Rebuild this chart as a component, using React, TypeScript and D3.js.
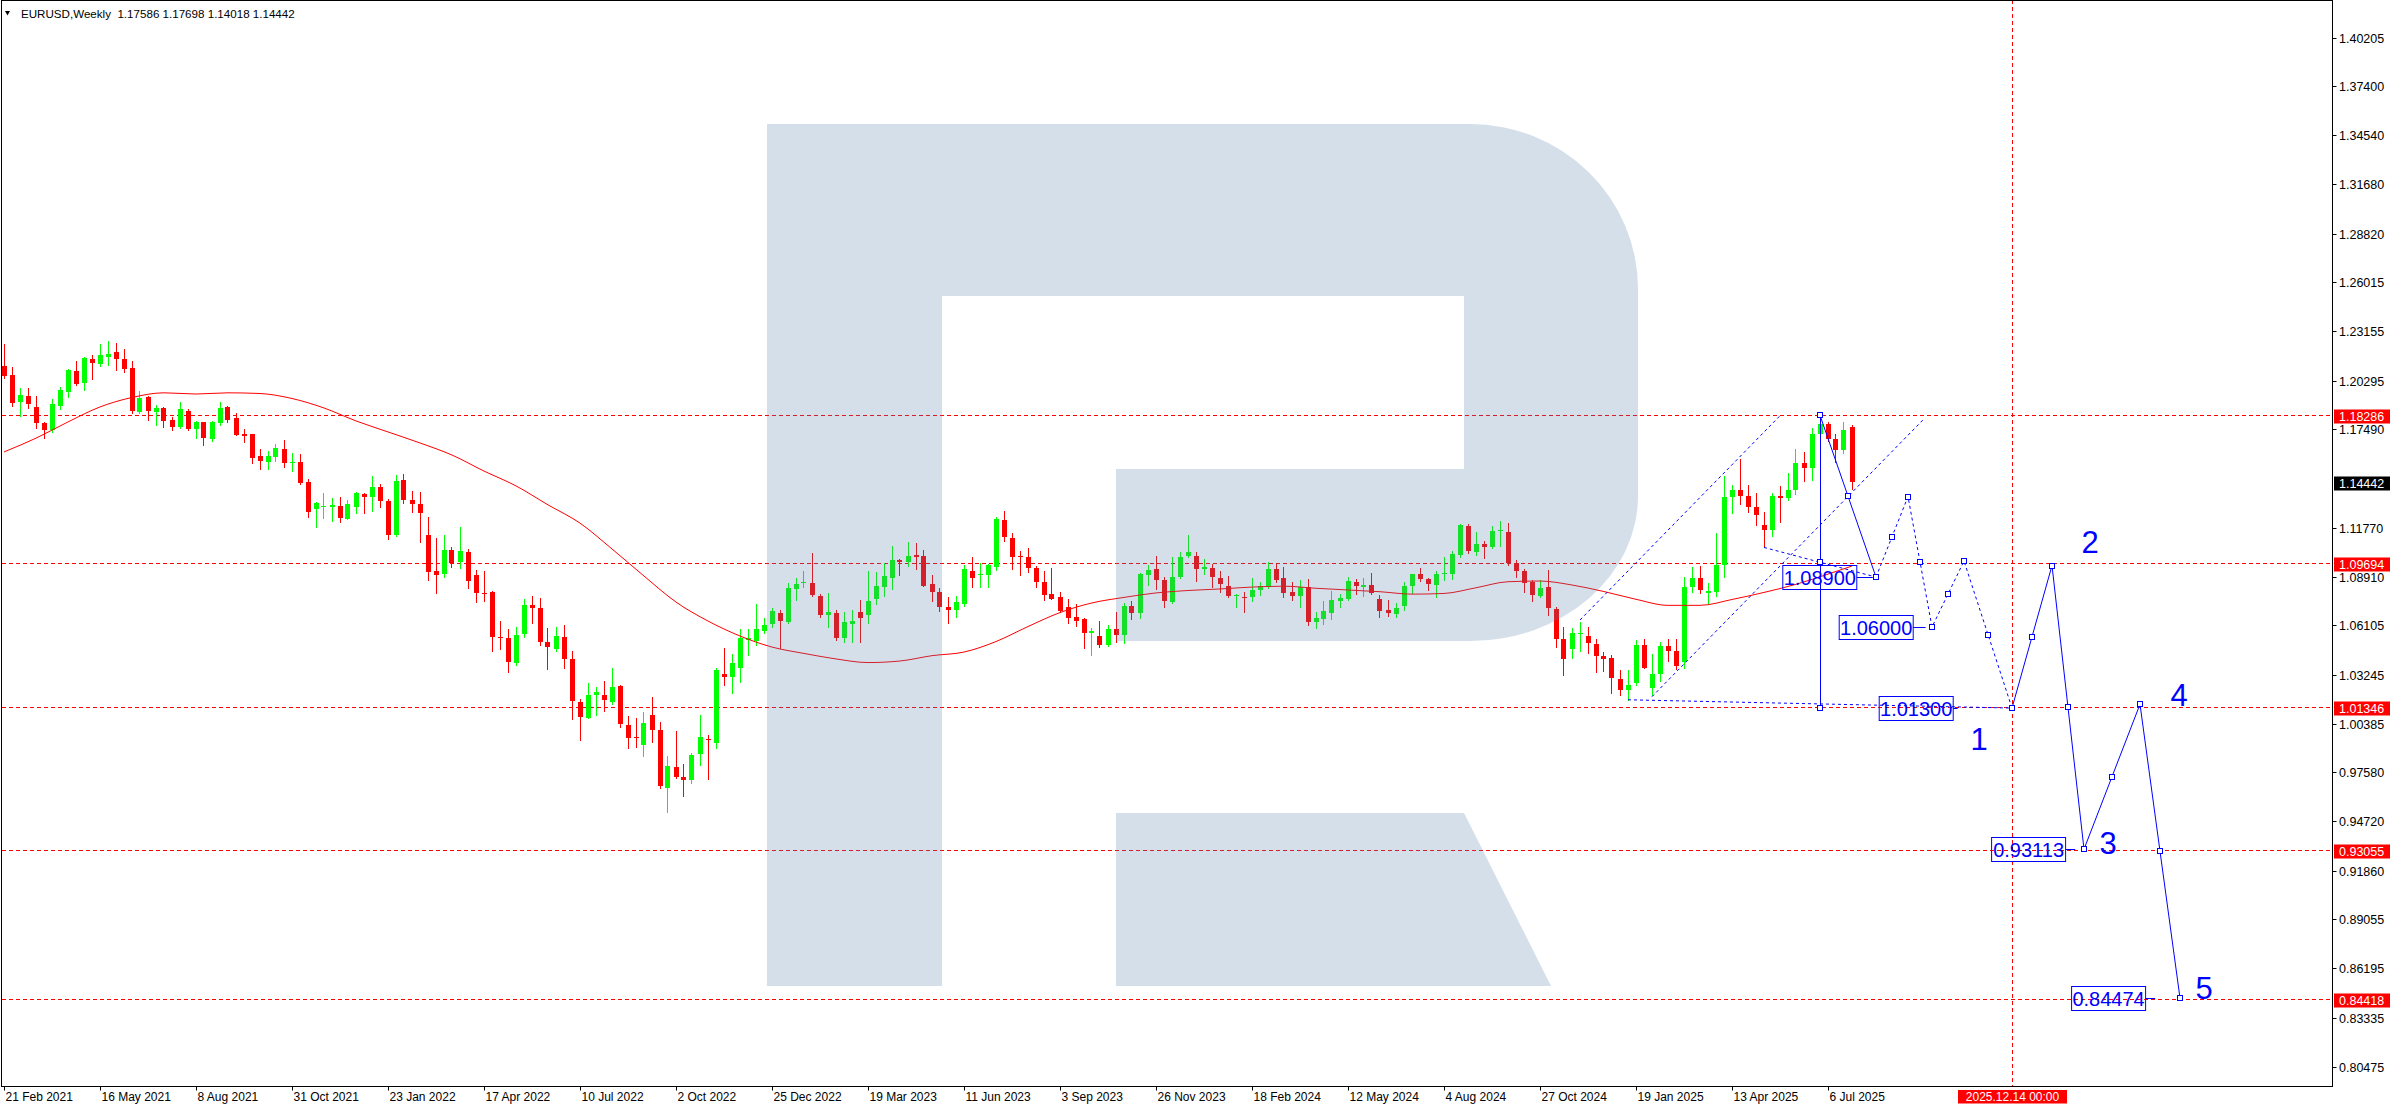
import React from "react";
import * as d3 from "d3";

// ---------- DATA ----------
const SYMBOL = "EURUSD,Weekly";
const START = Date.UTC(2021, 1, 21); // first visible weekly bar (index 0)
const WEEK_MS = 7 * 24 * 3600 * 1000;

const opens = [
  1.2115,1.2062,1.1908,1.1941,1.1875,1.1784,1.1743,1.1883,1.1966,1.2086,
  1.2018,1.2155,1.2126,1.2169,1.2196,1.2155,1.2103,1.1850,1.1937,1.1850,
  1.1869,1.1801,1.1763,1.1855,1.1749,1.1788,1.1690,1.1786,1.1875,1.1815,
  1.1720,1.1718,1.1592,1.1560,1.1589,1.1633,1.1554,1.1558,1.1442,1.1283,
  1.1299,1.1295,1.1302,1.1229,1.1299,1.1372,1.1353,1.1411,1.1331,1.1134,
  1.1451,1.1335,1.1314,1.1134,1.0927,1.0908,1.1047,1.0977,1.1037,1.0902,
  1.0800,1.0805,1.0544,1.0535,1.0393,1.0558,1.0728,1.0709,1.0511,1.0471,
  1.0540,1.0415,1.0167,1.0074,1.0204,1.0204,1.0167,1.0258,1.0032,0.9964,
  0.9916,1.0090,1.0003,0.9664,0.9786,0.9728,0.9713,0.9863,0.9949,0.9930,
  1.0328,1.0312,1.0364,1.0525,1.0521,1.0577,1.0616,1.0680,1.0631,1.0821,
  1.0857,1.0854,1.0780,1.0670,1.0684,1.0535,1.0618,1.0687,1.0670,1.0763,
  1.0834,1.0887,1.0989,1.0979,1.1018,1.1012,1.0850,1.0801,1.0718,1.0699,
  1.0734,1.0925,1.0902,1.0902,1.0950,1.1221,1.1115,1.1012,1.1008,1.0941,
  1.0860,1.0792,1.0772,1.0718,1.0660,1.0645,1.0563,1.0548,1.0496,1.0589,
  1.0554,1.0722,1.0680,1.0902,1.0937,1.0873,1.0748,1.0889,1.1014,1.1014,
  1.0935,1.0941,1.0887,1.0838,1.0782,1.0776,1.0772,1.0815,1.0830,1.0937,
  1.0883,1.0805,1.0782,1.0834,1.0627,1.0647,1.0683,1.0753,1.0763,1.0863,
  1.0834,1.0844,1.0763,1.0699,1.0676,1.0720,1.0840,1.0905,1.0877,1.0844,
  1.0908,1.0908,1.1018,1.1186,1.1037,1.1080,1.1066,1.1155,1.1153,1.0970,
  1.0927,1.0864,1.0782,1.0835,1.0703,1.0529,1.0471,1.0560,1.0550,1.0500,
  1.0430,1.0419,1.0297,1.0235,1.0274,1.0493,1.0246,1.0329,1.0492,1.0459,
  1.0398,1.0833,1.0882,1.0800,1.0803,1.0960,1.1357,1.1394,1.1362,1.1299,
  1.1190,1.1163,1.1363,1.1348,1.1397,1.1551,1.1523,1.1719,1.1779,1.1689,
  1.1626,1.17586,
];
const highs = [
  1.2240,1.2111,1.1985,1.1985,1.1941,1.1792,1.1923,1.1995,1.2095,1.2144,
  1.2165,1.2178,1.2242,1.2260,1.2250,1.2211,1.2144,1.1970,1.1941,1.1888,
  1.1875,1.1821,1.1908,1.1863,1.1797,1.1792,1.1796,1.1906,1.1883,1.1840,
  1.1749,1.1722,1.1631,1.1621,1.1662,1.1685,1.1608,1.1604,1.1457,1.1325,
  1.1376,1.1347,1.1353,1.1337,1.1382,1.1376,1.1477,1.1428,1.1341,1.1482,
  1.1488,1.1387,1.1382,1.1240,1.1115,1.1134,1.1063,1.1179,1.1051,1.0931,
  1.0927,1.0811,1.0635,1.0589,1.0598,1.0763,1.0780,1.0767,1.0593,1.0598,
  1.0612,1.0461,1.0181,1.0274,1.0250,1.0287,1.0364,1.0264,1.0084,1.0074,
  1.0105,1.0196,1.0051,0.9852,0.9997,0.9805,0.9867,1.0090,0.9974,1.0360,
  1.0477,1.0444,1.0587,1.0587,1.0734,1.0651,1.0709,1.0699,1.0858,1.0883,
  1.0927,1.1032,1.0792,1.0800,1.0699,1.0689,1.0699,1.0757,1.0927,1.0921,
  1.0970,1.1070,1.0995,1.1095,1.1090,1.1047,1.0902,1.0825,1.0776,1.0780,
  1.0960,1.1008,1.0970,1.0966,1.1240,1.1275,1.1144,1.1041,1.1057,1.0954,
  1.0925,1.0945,1.0801,1.0761,1.0734,1.0650,1.0593,1.0635,1.0612,1.0687,
  1.0741,1.0751,1.0912,1.0960,1.1012,1.0889,1.1008,1.1035,1.1134,1.1033,
  1.0993,1.0964,1.0925,1.0896,1.0791,1.0805,1.0883,1.0859,1.0979,1.0966,
  1.0948,1.0859,1.0873,1.0879,1.0685,1.0751,1.0811,1.0792,1.0892,1.0879,
  1.0883,1.0912,1.0786,1.0757,1.0741,1.0859,1.0910,1.0945,1.0885,1.0925,
  1.1008,1.1043,1.1198,1.1200,1.1150,1.1100,1.1186,1.1214,1.1202,1.0989,
  1.0935,1.0873,1.0873,1.0931,1.0718,1.0602,1.0593,1.0630,1.0600,1.0530,
  1.0456,1.0440,1.0351,1.0351,1.0522,1.0533,1.0442,1.0513,1.0528,1.0528,
  1.0888,1.0947,1.0955,1.0858,1.1144,1.1474,1.1423,1.1573,1.1425,1.1380,
  1.1265,1.1376,1.1419,1.1495,1.1631,1.1614,1.1754,1.18286,1.1789,1.1720,
  1.1788,1.17698,
];
const lows = [
  1.2045,1.1883,1.1825,1.1869,1.1753,1.1695,1.1734,1.1863,1.1937,1.2004,
  1.1975,1.2037,1.2115,1.2120,1.2091,1.2082,1.1840,1.1840,1.1801,1.1772,
  1.1763,1.1743,1.1753,1.1743,1.1699,1.1656,1.1681,1.1772,1.1792,1.1714,
  1.1676,1.1554,1.1517,1.1517,1.1565,1.1527,1.1507,1.1430,1.1240,1.1179,
  1.1231,1.1217,1.1211,1.1225,1.1264,1.1264,1.1275,1.1295,1.1111,1.1130,
  1.1322,1.1266,1.1095,1.0873,1.0800,1.0892,1.0950,1.0941,1.0825,1.0747,
  1.0753,1.0463,1.0473,1.0341,1.0380,1.0544,1.0622,1.0496,1.0355,1.0463,
  1.0360,1.0065,0.9945,1.0070,1.0090,1.0115,1.0152,1.0022,0.9896,0.9906,
  0.9854,0.9935,0.9664,0.9529,0.9722,0.9622,0.9697,0.9800,0.9718,0.9900,
  1.0264,1.0215,1.0283,1.0438,1.0496,1.0567,1.0598,1.0477,1.0625,1.0757,
  1.0830,1.0782,1.0660,1.0602,1.0525,1.0515,1.0511,1.0511,1.0625,1.0734,
  1.0780,1.0821,1.0902,1.0956,1.0935,1.0838,1.0753,1.0695,1.0625,1.0660,
  1.0722,1.0834,1.0830,1.0830,1.0931,1.1101,1.0935,1.0902,1.0921,1.0834,
  1.0757,1.0760,1.0690,1.0625,1.0608,1.0480,1.0438,1.0486,1.0490,1.0515,
  1.0510,1.0647,1.0654,1.0844,1.0821,1.0718,1.0738,1.0885,1.1005,1.0869,
  1.0906,1.0834,1.0805,1.0772,1.0714,1.0689,1.0753,1.0786,1.0828,1.0863,
  1.0776,1.0757,1.0718,1.0612,1.0593,1.0618,1.0645,1.0718,1.0757,1.0792,
  1.0782,1.0792,1.0660,1.0666,1.0660,1.0699,1.0796,1.0867,1.0815,1.0772,
  1.0873,1.0881,1.1005,1.1030,1.1018,1.0999,1.1060,1.1068,1.0960,1.0892,
  1.0805,1.0753,1.0776,1.0670,1.0486,1.0322,1.0419,1.0460,1.0450,1.0340,
  1.0343,1.0216,1.0206,1.0178,1.0266,1.0360,1.0206,1.0285,1.0401,1.0358,
  1.0360,1.0806,1.0796,1.0733,1.0778,1.0888,1.1264,1.1314,1.1265,1.1192,
  1.1065,1.1129,1.1210,1.1340,1.1373,1.1446,1.1453,1.1713,1.1677,1.1556,
  1.1609,1.14018,
];
const closes = [
  1.2055,1.1902,1.1946,1.1894,1.1786,1.1743,1.1894,1.1975,1.2091,1.2010,
  1.2161,1.2134,1.2178,1.2184,1.2155,1.2097,1.1852,1.1931,1.1854,1.1869,
  1.1797,1.1763,1.1863,1.1749,1.1788,1.1695,1.1790,1.1869,1.1801,1.1716,
  1.1711,1.1583,1.1565,1.1592,1.1641,1.1554,1.1558,1.1438,1.1269,1.1318,
  1.1303,1.1308,1.1231,1.1314,1.1376,1.1353,1.1411,1.1333,1.1134,1.1445,
  1.1337,1.1314,1.1264,1.0921,1.0902,1.1047,1.0970,1.1041,1.0869,1.0800,
  1.0792,1.0540,1.0536,1.0399,1.0554,1.0728,1.0709,1.0515,1.0486,1.0548,
  1.0415,1.0173,1.0080,1.0206,1.0221,1.0177,1.0250,1.0036,0.9958,0.9956,
  1.0041,1.0003,0.9680,0.9794,0.9732,0.9713,0.9858,0.9960,0.9945,1.0351,
  1.0312,1.0390,1.0535,1.0535,1.0587,1.0612,1.0693,1.0637,1.0825,1.0850,
  1.0860,1.0786,1.0670,1.0687,1.0535,1.0631,1.0637,1.0654,1.0751,1.0838,
  1.0896,1.0989,1.0977,1.1012,1.1008,1.0840,1.0801,1.0718,1.0699,1.0747,
  1.0937,1.0887,1.0908,1.0960,1.1227,1.1121,1.1008,1.1005,1.0941,1.0863,
  1.0786,1.0763,1.0695,1.0654,1.0637,1.0567,1.0577,1.0496,1.0589,1.0554,
  1.0722,1.0680,1.0908,1.0931,1.0873,1.0753,1.0892,1.1008,1.1035,1.0935,
  1.0950,1.0889,1.0848,1.0782,1.0786,1.0770,1.0815,1.0838,1.0937,1.0873,
  1.0800,1.0782,1.0834,1.0631,1.0654,1.0693,1.0757,1.0770,1.0867,1.0840,
  1.0844,1.0796,1.0695,1.0684,1.0709,1.0838,1.0905,1.0877,1.0848,1.0908,
  1.0912,1.1022,1.1192,1.1041,1.1080,1.1066,1.1157,1.1161,1.0970,1.0927,
  1.0854,1.0786,1.0829,1.0709,1.0529,1.0413,1.0568,1.0567,1.0505,1.0430,
  1.0415,1.0303,1.0235,1.0264,1.0493,1.0364,1.0329,1.0492,1.0459,1.0375,
  1.0833,1.0882,1.0815,1.0808,1.0960,1.1357,1.1394,1.1362,1.1299,1.1250,
  1.1163,1.1363,1.1348,1.1397,1.1551,1.1523,1.1719,1.1779,1.1689,1.1626,
  1.1742,1.14442,
];

// Moving average (week index -> value)
const maWeeks = [0,4,8,12,16,20,24,28,32,36,40,44,48,52,56,60,64,68,72,76,80,84,88,92,96,100,104,108,112,116,120,124,128,132,136,140,144,148,152,156,160,164,168,172,176,180,184,188,192,196,200,204,208,212,216,220,224,228,231];
const maValues = [1.1616,1.1696,1.1790,1.1877,1.1932,1.1959,1.1952,1.1959,1.1955,1.1926,1.1871,1.1796,1.1732,1.1668,1.1598,1.1505,1.1419,1.1309,1.1203,1.1053,1.0896,1.0745,1.0635,1.0548,1.0484,1.0447,1.0415,1.0394,1.0403,1.0434,1.0455,1.0516,1.0603,1.0684,1.0740,1.0772,1.0798,1.0812,1.0821,1.0832,1.0837,1.0825,1.0815,1.0805,1.0791,1.0795,1.0828,1.0863,1.0867,1.0844,1.0806,1.0761,1.0726,1.0726,1.0760,1.0801,1.0848,1.0907,1.0954];

const priceTicks = [1.40205,1.374,1.3454,1.3168,1.2882,1.26015,1.23155,1.20295,1.1749,1.1177,1.0891,1.06105,1.03245,1.00385,0.9758,0.9472,0.9186,0.89055,0.86195,0.83335,0.80475];
const levelPrices = [1.18286, 1.09694, 1.01346, 0.93055, 0.84418];
const dateTickLabels = ["21 Feb 2021","16 May 2021","8 Aug 2021","31 Oct 2021","23 Jan 2022","17 Apr 2022","10 Jul 2022","2 Oct 2022","25 Dec 2022","19 Mar 2023","11 Jun 2023","3 Sep 2023","26 Nov 2023","18 Feb 2024","12 May 2024","4 Aug 2024","27 Oct 2024","19 Jan 2025","13 Apr 2025","6 Jul 2025"];
const markerWeek = 251; // vertical time marker (2025.12.14)

// Forecast drawing (week index, price)
const firstLeg = [[227, 1.18286], [234, 1.089]];
const dottedWave = [[234, 1.089], [238, 1.1357], [241, 1.06], [245, 1.0983], [251, 1.013]];
const mainWave = [[251, 1.013], [256, 1.0957], [260, 0.93113], [267, 1.0152], [272, 0.84474]];
const waveNames = ["1", "2", "3", "4", "5"];
const channelUpper = [[197, 1.0641], [222, 1.1826]];
const channelLower = [[206, 1.0196], [240, 1.1808]];
const baseLine = [[203, 1.0178], [251, 1.013]];
const diagLine = [[220, 1.1062], [234, 1.089]];
const verticalLine = [[227, 1.18286], [227, 1.013]];
const boxPrices = [1.089, 1.06, 1.013, 0.93113, 0.84474];
const boxRightWeeks = [231.6, 238.65, 243.65, 257.7, 267.7];
const boxTargetWeeks = [233.6, 240.2, 244.2, 258.9, 268.9];

// ---------- LAYOUT ----------
const W = 2396, H = 1110;
const PL = 1.5, PT = 0.5, PR = 2332.5, PB = 1086.5;
const FONT = "'Liberation Sans', Arial, sans-serif";
const BLUE = "#0000ff";
const RED = "#ff0000";
const waveLabelOffsets = [[-33, 42], [38, -13], [24, 5], [39, 2], [24, 1]];

const weekDate = (i: number) => new Date(START + i * WEEK_MS);
const xScale = d3.scaleUtc().domain([weekDate(0), weekDate(markerWeek)]).range([4, 4 + 8 * markerWeek]);
const yScale = d3.scaleLinear().domain([1.40205, 0.80475]).range([37.5, 1067]);
const X = (i: number) => xScale(weekDate(i));
const Y = (p: number) => yScale(p);

function Marker({ x, y }: { x: number; y: number }) {
  return <rect x={Math.round(x) - 2.5} y={Math.round(y) - 2.5} width={5} height={5} fill="#fff" stroke={BLUE} strokeWidth={1} />;
}

function segMarkers(pts: number[][]) {
  const out: { x: number; y: number }[] = [];
  pts.forEach((p, k) => {
    out.push({ x: X(p[0]), y: Y(p[1]) });
    if (k < pts.length - 1) {
      const q = pts[k + 1];
      out.push({ x: X((p[0] + q[0]) / 2), y: Y((p[1] + q[1]) / 2) });
    }
  });
  return out;
}

export default function App() {
  const line = d3.line<number[]>().x((d) => X(d[0])).y((d) => Y(d[1]));
  const maLine = d3
    .line<number>()
    .x((_, k) => X(maWeeks[k]))
    .y((v) => Y(v))
    .curve(d3.curveMonotoneX);

  const candles = closes.map((c, i) => {
    const o = opens[i], h = highs[i], l = lows[i];
    const cx = Math.floor(X(i));
    const col = c >= o ? "#00ff00" : RED;
    const yH = Math.round(Y(h)), yL = Math.round(Y(l));
    const top = Math.round(Y(Math.max(o, c)));
    const bot = Math.round(Y(Math.min(o, c)));
    return (
      <g key={i} fill={col}>
        <rect x={cx} y={yH} width={1} height={Math.max(1, yL - yH + 1)} />
        <rect x={cx - 2} y={top} width={5} height={Math.max(1, bot - top)} />
      </g>
    );
  });

  const parse = d3.utcParse("%d %b %Y");
  const last = closes.length - 1;
  const header = `${SYMBOL}  ${opens[last].toFixed(5)} ${highs[last].toFixed(5)} ${lows[last].toFixed(5)} ${closes[last].toFixed(5)}`;
  const fmtMarker = d3.utcFormat("%Y.%m.%d %H:%M");
  const xm = Math.floor(X(markerWeek)) + 0.5;

  const logoMain = "M767,124 H1470 A168,165 0 0 1 1638,289 V496 A168,145 0 0 1 1470,641 H1116 V469 H1464 V296 H942 V986 H767 Z";
  const logoLeg = "M1116,813 H1464 L1551,986 H1116 Z";

  const allMarkers = [
    ...segMarkers(firstLeg),
    ...segMarkers(dottedWave),
    ...segMarkers(mainWave),
    ...segMarkers(verticalLine),
  ];

  return (
    <svg
      width={W}
      height={H}
      style={{ position: "absolute", left: 0, top: 0, background: "#fff" }}
      fontFamily={FONT}
    >
      <defs>
        <clipPath id="plot">
          <rect x={2} y={1} width={PR - 2} height={PB - 1} />
        </clipPath>
      </defs>
      <rect x={0} y={0} width={W} height={H} fill="#fff" />

      <g clipPath="url(#plot)">
        {levelPrices.map((p) => (
          <line key={p} x1={2} x2={PR} y1={Math.round(Y(p)) + 0.5} y2={Math.round(Y(p)) + 0.5} stroke={RED} strokeDasharray="4 3" />
        ))}
        <line x1={xm} x2={xm} y1={0} y2={PB} stroke={RED} strokeDasharray="4 3" />
        {candles}
        <path d={maLine(maValues) || ""} fill="none" stroke={RED} strokeWidth={1} />
        <path d={logoMain} fill="rgb(84,128,172)" fillOpacity={0.25} />
        <path d={logoLeg} fill="rgb(84,128,172)" fillOpacity={0.25} />

        {/* forecast drawings */}
        <g fill="none" stroke={BLUE} strokeWidth={1}>
          <path d={line(channelUpper) || ""} strokeDasharray="3 3" />
          <path d={line(channelLower) || ""} strokeDasharray="3 3" />
          <path d={line(baseLine) || ""} strokeDasharray="3 3" />
          <path d={line(diagLine) || ""} strokeDasharray="3 3" />
          <path d={line(dottedWave) || ""} strokeDasharray="3 3" />
          <path d={line(firstLeg) || ""} />
          <path d={line(mainWave) || ""} />
          <line x1={Math.floor(X(verticalLine[0][0])) + 0.5} x2={Math.floor(X(verticalLine[1][0])) + 0.5} y1={Y(verticalLine[0][1])} y2={Y(verticalLine[1][1])} />
        </g>
        {boxPrices.map((p, k) => {
          const xr = X(boxRightWeeks[k]);
          const yc = Math.round(Y(p)) + 0.5;
          return (
            <g key={p}>
              <line x1={xr} x2={X(boxTargetWeeks[k])} y1={yc} y2={yc} stroke={BLUE} />
              <rect x={xr - 74} y={yc - 12} width={74} height={24} fill="none" stroke={BLUE} />
              <text x={xr - 37} y={yc + 7} fontSize={20} fill={BLUE} textAnchor="middle">{p.toFixed(5)}</text>
            </g>
          );
        })}
        {allMarkers.map((m, k) => <Marker key={k} x={m.x} y={m.y} />)}
        {mainWave.map((p, k) => (
          <text key={k} x={X(p[0]) + waveLabelOffsets[k][0]} y={Y(p[1]) + waveLabelOffsets[k][1]} fontSize={31} fill={BLUE} textAnchor="middle">{waveNames[k]}</text>
        ))}
      </g>

      {/* header */}
      <polygon points="5,11 10,11 7.5,15.5" fill="#000" />
      <text x={21} y={18} fontSize={11.6} fill="#000" style={{ whiteSpace: "pre" }}>{header}</text>

      {/* frame */}
      <rect x={PL} y={PT} width={PR - PL} height={PB - PT} fill="none" stroke="#000" strokeWidth={1} />

      {/* price axis */}
      {priceTicks.map((p) => {
        const y = Math.round(Y(p)) + 0.5;
        return (
          <g key={p}>
            <line x1={PR} x2={PR + 4} y1={y} y2={y} stroke="#000" />
            <text x={2339} y={y + 4.5} fontSize={12.5} fill="#000">{p.toFixed(5)}</text>
          </g>
        );
      })}
      {levelPrices.map((p) => {
        const y = Math.round(Y(p)) + 0.5;
        return (
          <g key={p}>
            <rect x={2334} y={y - 6} width={56} height={14} fill={RED} />
            <text x={2339} y={y + 5} fontSize={12.5} fill="#fff">{p.toFixed(5)}</text>
          </g>
        );
      })}
      {(() => {
        const y = Math.round(Y(closes[last])) + 0.5;
        return (
          <g>
            <rect x={2334} y={y - 6} width={56} height={14} fill="#000" />
            <text x={2339} y={y + 5} fontSize={12.5} fill="#fff">{closes[last].toFixed(5)}</text>
          </g>
        );
      })()}

      {/* time axis */}
      {dateTickLabels.map((s) => {
        const d = parse(s) as Date;
        const x = Math.floor(xScale(d)) + 0.5;
        return (
          <g key={s}>
            <line x1={x} x2={x} y1={PB} y2={PB + 4} stroke="#000" />
            <text x={x + 1} y={1101} fontSize={12} fill="#000">{s}</text>
          </g>
        );
      })}
      <rect x={xm - 54.5} y={1090} width={109} height={13.5} fill={RED} />
      <text x={xm} y={1101} fontSize={12} fill="#fff" textAnchor="middle">{fmtMarker(weekDate(markerWeek))}</text>
    </svg>
  );
}
